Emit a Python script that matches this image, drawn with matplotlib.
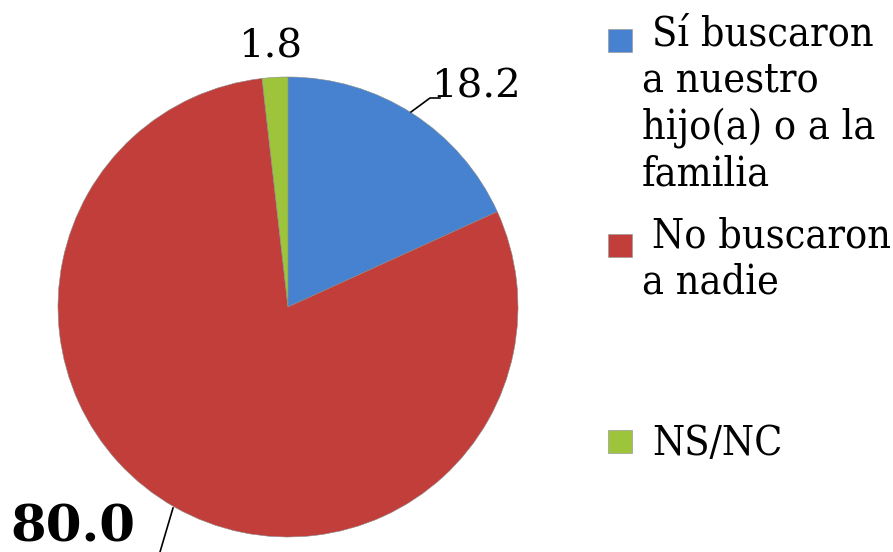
import matplotlib
matplotlib.use("Agg")
import matplotlib.pyplot as plt
from matplotlib.patches import Rectangle
from matplotlib import font_manager as fm

categories = ["Sí buscaron\na nuestro\nhijo(a) o a la\nfamilia", "No buscaron\na nadie", "NS/NC"]
values = [18.2, 80.0, 1.8]
value_labels = ["18.2", "80.0", "1.8"]
colors = ["#4682CF", "#C23E3B", "#9DC43A"]

W, H = 893, 552
fig = plt.figure(figsize=(W / 100, H / 100), dpi=100)
fig.patch.set_facecolor("white")

cx, cy, r = 288, 307, 230
ax = fig.add_axes([(cx - r) / W, (H - cy - r) / H, 2 * r / W, 2 * r / H])
wedges, _ = ax.pie(values, colors=colors, startangle=90, counterclock=False,
                   wedgeprops=dict(edgecolor="#8a8a8a", linewidth=0.4))
ax.set_xlim(-1, 1)
ax.set_ylim(-1, 1)
ax.set_aspect("equal")
ax.axis("off")

numfont = "DejaVu Serif"
# pick a serif legend font that is actually installed
cond_path = fm.findfont(fm.FontProperties(family="DejaVu Serif", stretch="condensed"),
                        fallback_to_default=True)
if "Condensed" in cond_path:
    leg_props = dict(family="DejaVu Serif", fontstretch="condensed", fontsize=29.5)
else:
    leg_props = dict(family="DejaVu Serif", fontsize=26.5)

# data labels
fig.text(476 / W, 1 - 87 / H, value_labels[0], family=numfont, fontsize=29, ha="center", va="center")
fig.lines.append(plt.Line2D([411 / W, 430 / W, 440 / W], [1 - 112 / H, 1 - 98 / H, 1 - 98 / H],
                            transform=fig.transFigure, color="black", lw=1.2))
fig.text(270 / W, 1 - 47 / H, value_labels[2], family=numfont, fontsize=29, ha="center", va="center")
fig.text(73 / W, 1 - 528 / H, value_labels[1], family=numfont, fontsize=37, fontweight="bold",
         ha="center", va="center")
fig.lines.append(plt.Line2D([173 / W, 160 / W], [1 - 508 / H, 1 - 552 / H],
                            transform=fig.transFigure, color="black", lw=1.2))

# legend
first_baseline = [45, 247, 455]
marker_top = [29, 234, 430]
for lab, col, yb, mt in zip(categories, colors, first_baseline, marker_top):
    fig.patches.append(Rectangle((608 / W, 1 - (mt + 23) / H), 24 / W, 23 / H,
                                 transform=fig.transFigure, facecolor=col,
                                 edgecolor="#9a9a9a", lw=0.5))
    for i, line in enumerate(lab.split("\n")):
        x = 652 if i == 0 else 642
        fig.text(x / W, 1 - (yb + i * 47) / H, line, ha="left", va="baseline", **leg_props)

fig.savefig("out.png", dpi=100)
